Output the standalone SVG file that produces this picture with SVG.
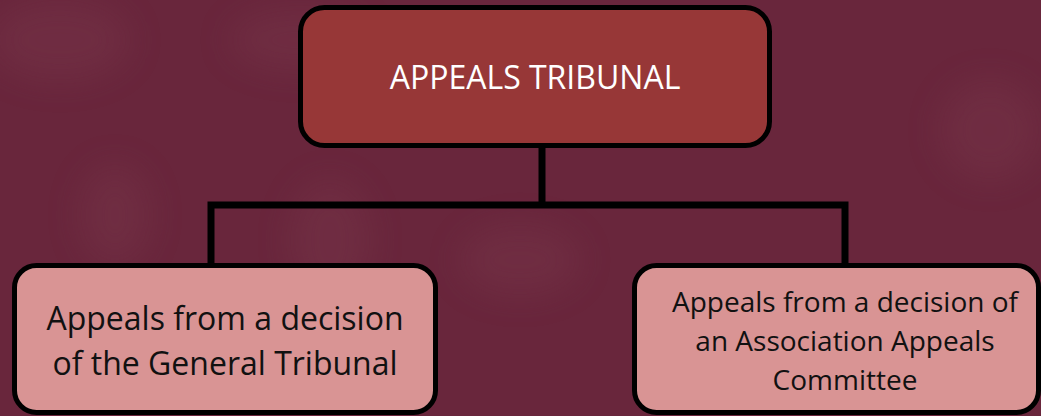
<svg xmlns="http://www.w3.org/2000/svg" width="1041" height="416" viewBox="0 0 1041 416">
<defs>
<filter id="blur" x="-50%" y="-50%" width="200%" height="200%"><feGaussianBlur stdDeviation="16"/></filter>
<style>
.box{stroke:#000;stroke-width:5}
.top{fill:#973737}
.sub{fill:#d99494}
.t{font-family:"Open Sans","Liberation Sans",sans-serif;text-anchor:middle}
.tw{fill:#ffffff;font-size:32px}
.tl{fill:#111111;font-size:32px}
.tr{fill:#111111;font-size:28px}
.conn{fill:none;stroke:#000;stroke-width:7;stroke-linejoin:miter;stroke-linecap:square}
</style>
</defs>
<rect width="1041" height="416" fill="#69263c"/>
<g filter="url(#blur)" fill="#77364a" opacity="0.45">
<ellipse cx="60" cy="40" rx="70" ry="40"/>
<ellipse cx="115" cy="215" rx="35" ry="50"/>
<ellipse cx="300" cy="40" rx="70" ry="30"/>
<ellipse cx="330" cy="240" rx="40" ry="60"/>
<ellipse cx="520" cy="260" rx="60" ry="35"/>
<ellipse cx="990" cy="130" rx="50" ry="50"/>
</g>
<g id="connectors">
<path class="conn" d="M542 147 V205 M211 265 V205 H845 V265"/>
</g>
<g id="node-appeals-tribunal">
<rect class="box top" x="300.5" y="7.5" width="469" height="138" rx="24"/>
<text class="t tw" x="535" y="89">APPEALS TRIBUNAL</text>
</g>
<g id="node-general-tribunal">
<rect class="box sub" x="14.5" y="265.5" width="421" height="147" rx="22"/>
<text class="t tl" x="225" y="330">Appeals from a decision</text>
<text class="t tl" x="225" y="375">of the General Tribunal</text>
</g>
<g id="node-association">
<rect class="box sub" x="634.5" y="265.5" width="404" height="147" rx="22"/>
<text class="t tr" x="845" y="312">Appeals from a decision of</text>
<text class="t tr" x="845" y="351">an Association Appeals</text>
<text class="t tr" x="845" y="390">Committee</text>
</g>
</svg>
